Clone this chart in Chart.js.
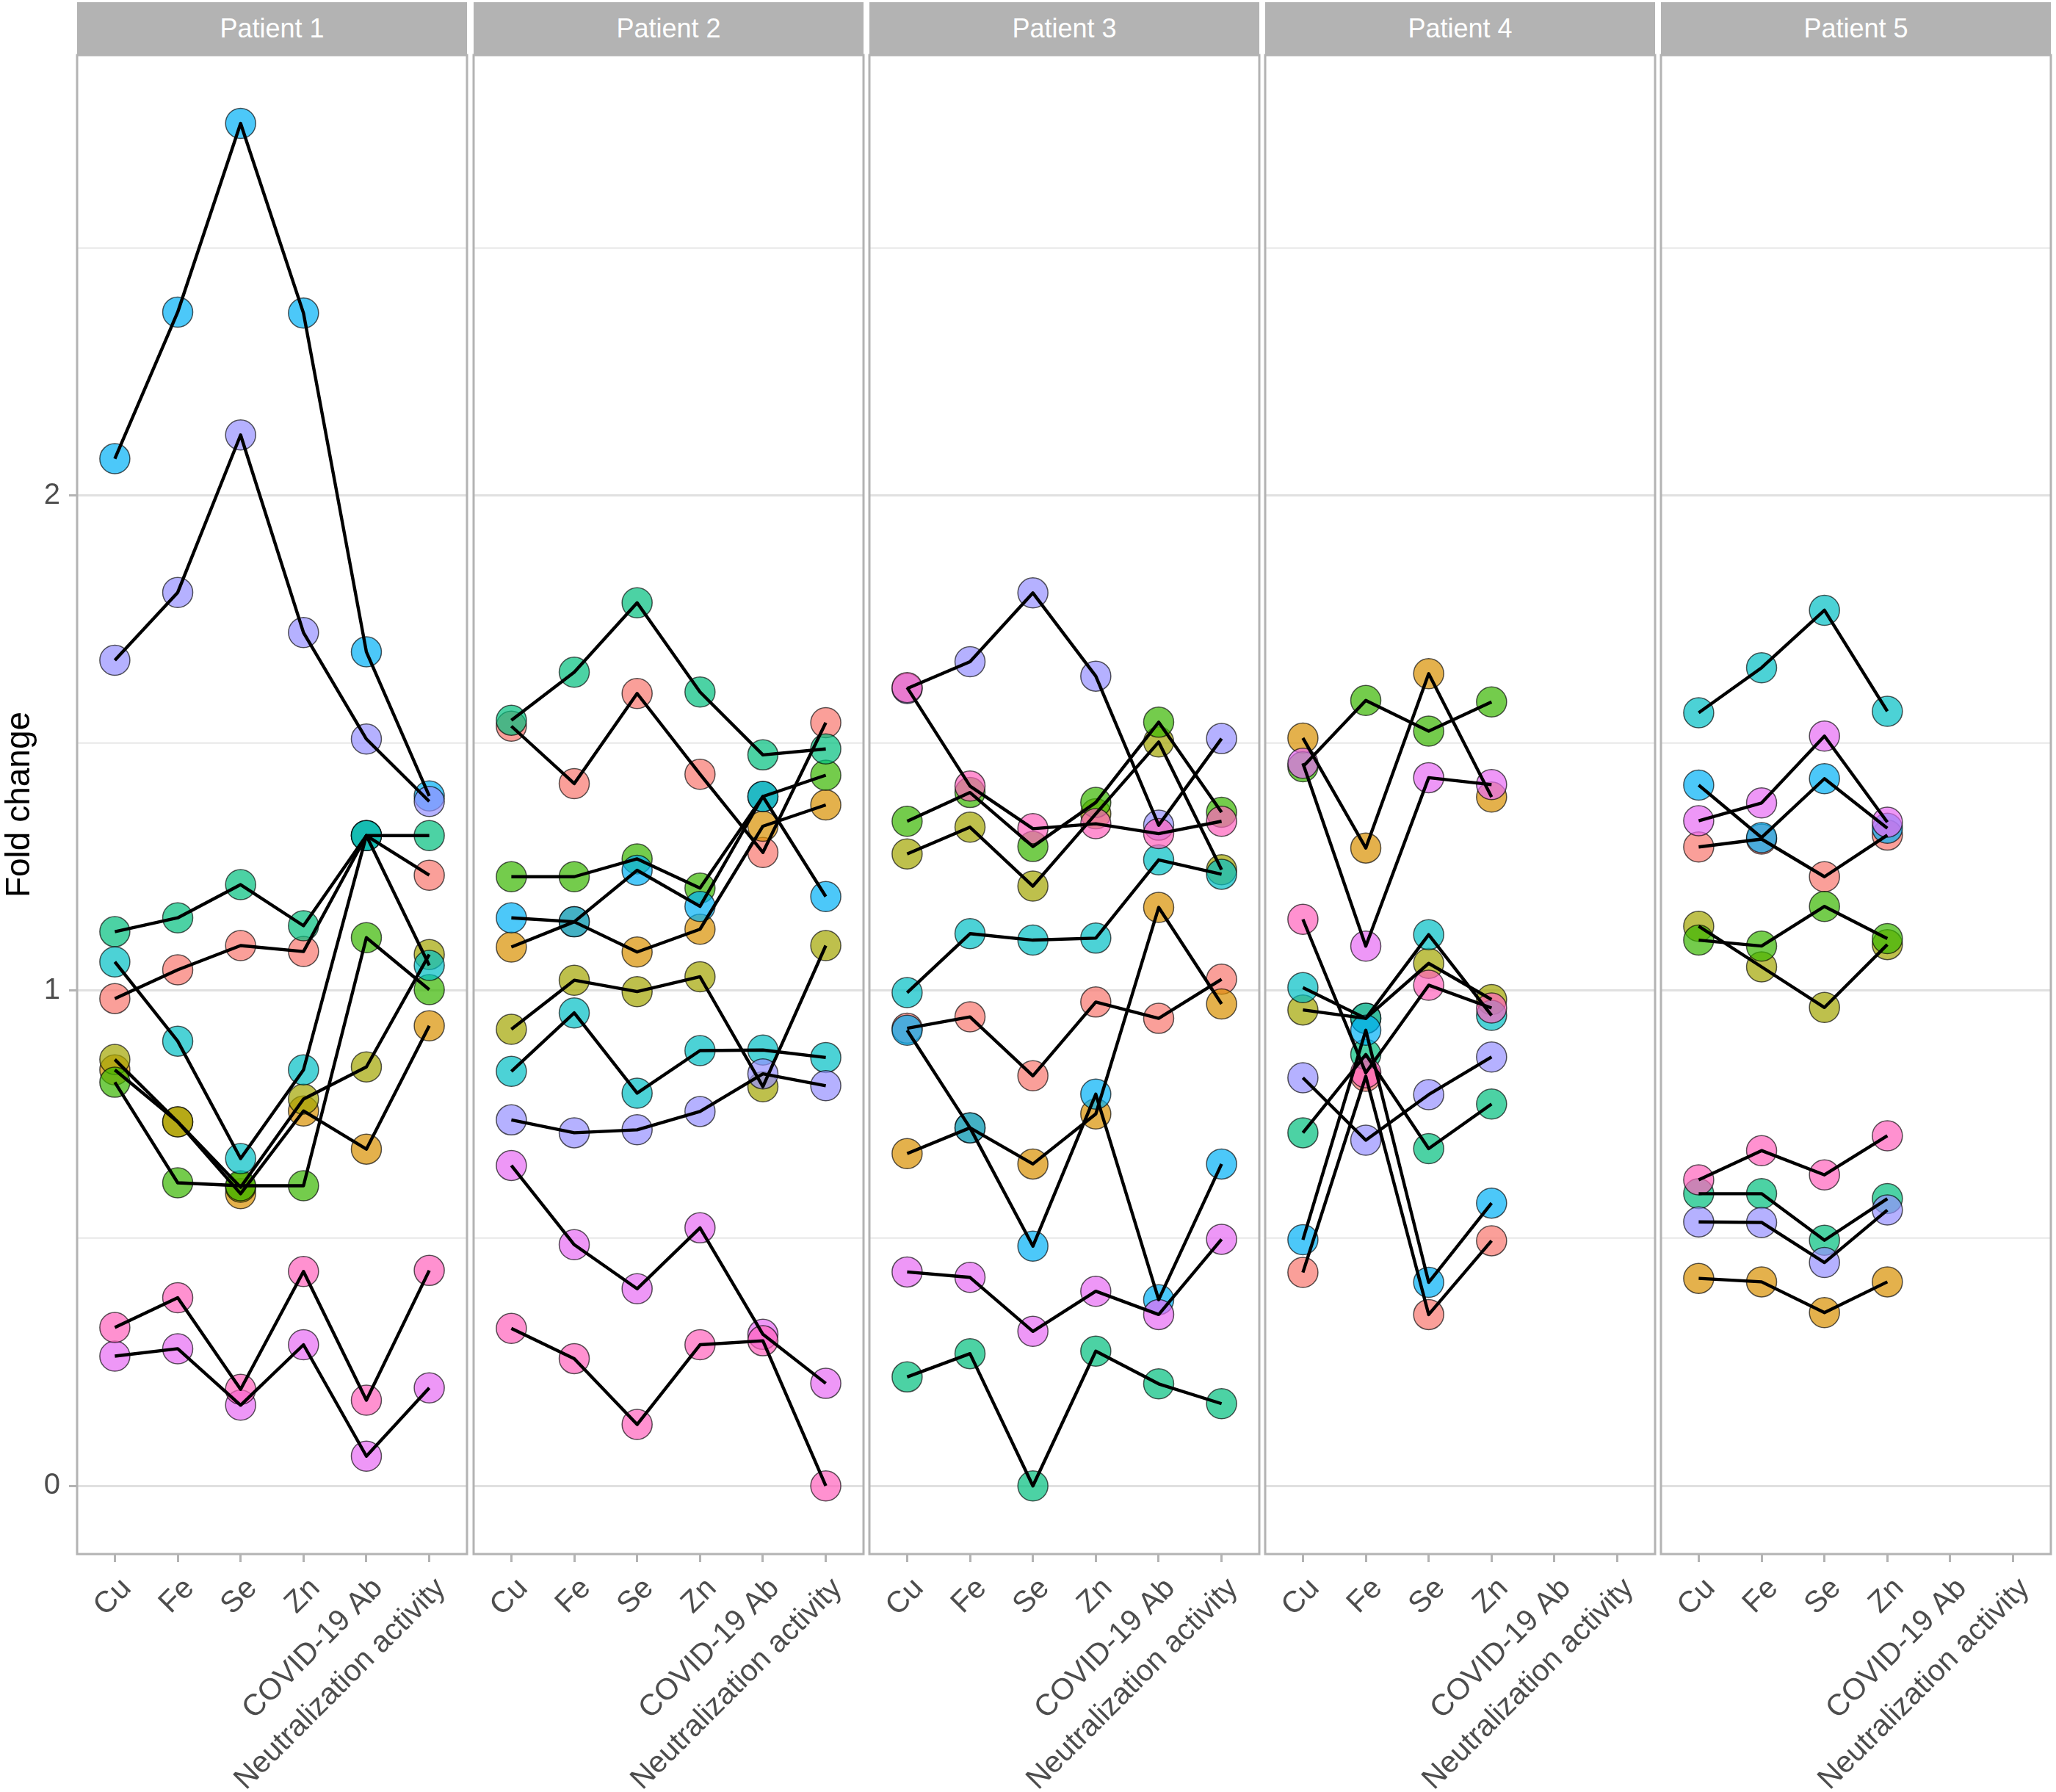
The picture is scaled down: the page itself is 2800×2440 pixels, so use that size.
<!DOCTYPE html>
<html><head><meta charset="utf-8">
<script src="https://cdn.jsdelivr.net/npm/chart.js@4.4.1/dist/chart.umd.min.js"></script>
<style>
html,body{margin:0;padding:0;background:#fff;}
#wrap{position:relative;width:2800px;height:2440px;overflow:hidden;background:#fff;}
.strip{position:absolute;top:3px;height:72px;background:#B3B3B3;color:#fff;font-family:'Liberation Sans',Arial,sans-serif;font-size:36px;display:flex;align-items:center;justify-content:center;}
canvas{position:absolute;}
</style></head><body><div id="wrap"></div>
<script>
// ---- data ----
const categories = ["Cu", "Fe", "Se", "Zn", "COVID-19 Ab", "Neutralization activity"];
const patients = ["Patient 1", "Patient 2", "Patient 3", "Patient 4", "Patient 5"];
const seriesColors = ["#F8766D", "#D89000", "#A3A500", "#39B600", "#00BF7D", "#00BFC4", "#00B0F6", "#9590FF", "#E76BF3", "#FF62BC"];
const yTickValues = [0, 0.5, 1, 1.5, 2, 2.5];

// rows follow seriesColors order; columns follow categories
const patient1 = [
  [0.984, 1.042, 1.091, 1.079, 1.313, 1.233],
  [0.840, 0.735, 0.590, 0.757, 0.680, 0.929],
  [0.861, 0.735, 0.603, 0.781, 0.846, 1.073],
  [0.815, 0.612, 0.606, 0.606, 1.107, 1.002],
  [1.119, 1.147, 1.214, 1.131, 1.313, 1.313],
  [1.058, 0.898, 0.661, 0.840, 1.313, 1.051],
  [2.074, 2.370, 2.751, 2.368, 1.684, 1.393],
  [1.667, 1.804, 2.122, 1.723, 1.508, 1.382],
  [0.262, 0.277, 0.163, 0.285, 0.060, 0.198],
  [0.320, 0.380, 0.195, 0.433, 0.173, 0.435]
];
const patient2 = [
  [1.534, 1.418, 1.600, 1.437, 1.279, 1.541],
  [1.088, 1.139, 1.078, 1.124, 1.332, 1.375],
  [0.922, 1.021, 0.998, 1.028, 0.806, 1.091],
  [1.230, 1.230, 1.266, 1.207, 1.392, 1.435],
  [1.546, 1.643, 1.783, 1.603, 1.476, 1.488],
  [0.837, 0.955, 0.793, 0.879, 0.880, 0.865],
  [1.147, 1.139, 1.243, 1.170, 1.392, 1.190],
  [0.739, 0.713, 0.719, 0.756, 0.832, 0.808],
  [0.647, 0.487, 0.398, 0.521, 0.306, 0.207],
  [0.318, 0.257, 0.124, 0.285, 0.293, 0.000]
];
const patient3 = [
  [0.924, 0.947, 0.828, 0.977, 0.944, 1.023],
  [0.671, 0.723, 0.650, 0.751, 1.168, 0.973],
  [1.276, 1.330, 1.211, 1.357, 1.502, 1.244],
  [1.342, 1.400, 1.291, 1.380, 1.542, 1.360],
  [0.220, 0.267, 0.000, 0.272, 0.206, 0.166],
  [0.996, 1.115, 1.102, 1.106, 1.264, 1.235],
  [0.920, 0.723, 0.484, 0.791, 0.376, 0.650],
  [1.610, 1.664, 1.803, 1.635, 1.334, 1.509],
  [0.432, 0.421, 0.312, 0.393, 0.346, 0.498],
  [1.612, 1.413, 1.327, 1.337, 1.317, 1.342]
];
const patient4 = [
  [0.431, 0.827, 0.346, 0.495, null, null],
  [1.510, 1.288, 1.640, 1.391, null, null],
  [0.961, 0.944, 1.055, 0.982, null, null],
  [1.452, 1.586, 1.524, 1.583, null, null],
  [0.713, 0.871, 0.681, 0.771, null, null],
  [1.006, 0.944, 1.113, 0.950, null, null],
  [0.497, 0.920, 0.411, 0.571, null, null],
  [0.824, 0.698, 0.790, 0.866, null, null],
  [1.459, 1.090, 1.430, 1.416, null, null],
  [1.144, 0.834, 1.011, 0.965, null, null]
];
const patient5 = [
  [1.290, 1.306, 1.230, 1.314, null, null],
  [0.419, 0.412, 0.350, 0.412, null, null],
  [1.130, 1.048, 0.966, 1.093, null, null],
  [1.102, 1.090, 1.170, 1.105, null, null],
  [0.590, 0.590, 0.496, 0.580, null, null],
  [1.561, 1.652, 1.768, 1.564, null, null],
  [1.415, 1.309, 1.428, 1.328, null, null],
  [0.533, 0.532, 0.451, 0.557, null, null],
  [1.343, 1.379, 1.514, 1.340, null, null],
  [0.618, 0.677, 0.628, 0.707, null, null]
];
const panelValues = [patient1, patient2, patient3, patient4, patient5];

// ---- layout ----
const panelLefts = [105, 645, 1184, 1723, 2262];
const panelWidth = 531;
const plotTop = 75, plotBottom = 2116;
const yMin = -0.1376, yMax = 2.889;
const FONT = "'Liberation Sans', Arial, Helvetica, sans-serif";

Chart.defaults.font.family = FONT;

function rgba(hex, a) {
  const n = parseInt(hex.slice(1), 16);
  return `rgba(${(n >> 16) & 255},${(n >> 8) & 255},${n & 255},${a})`;
}

const borderPlugin = {
  id: 'panelBorder',
  afterDraw(chart) {
    const { ctx, chartArea: a } = chart;
    ctx.save();
    ctx.strokeStyle = '#B3B3B3';
    ctx.lineWidth = 3;
    ctx.strokeRect(a.left, a.top, a.right - a.left, a.bottom - a.top);
    ctx.restore();
  }
};

const wrap = document.getElementById('wrap');

function buildConfig(values, first, yAxisW, xAxisH) {
  const datasets = [];
  values.forEach((vals) => {
    const pts = [];
    vals.forEach((v, i) => { if (v !== null) pts.push({ x: i + 1, y: v }); });
    datasets.push({
      data: pts, showLine: true, borderColor: '#000000', borderWidth: 4.4,
      pointRadius: 0, pointHoverRadius: 0, fill: false, tension: 0,
      borderJoinStyle: 'round', borderCapStyle: 'butt', order: 0
    });
  });
  values.forEach((vals, k) => {
    const pts = [];
    vals.forEach((v, i) => { if (v !== null) pts.push({ x: i + 1, y: v }); });
    datasets.push({
      data: pts, showLine: false, pointRadius: 20.5, pointHoverRadius: 20.5,
      pointBackgroundColor: rgba(seriesColors[k], 0.7),
      pointBorderColor: 'rgba(0,0,0,0.65)', pointBorderWidth: 1.5,
      order: 40 - k
    });
  });
  return {
    type: 'scatter',
    data: { datasets },
    plugins: [borderPlugin],
    options: {
      responsive: false, animation: false, devicePixelRatio: 1,
      layout: { padding: 0 },
      plugins: { legend: { display: false }, tooltip: { enabled: false } },
      scales: {
        x: {
          type: 'linear', min: 0.4, max: 6.6,
          afterBuildTicks: (s) => { s.ticks = categories.map((c, i) => ({ value: i + 1 })); },
          afterFit: (s) => { s.height = xAxisH; },
          ticks: {
            autoSkip: false, maxRotation: 45, minRotation: 45, padding: 12, labelOffset: 16,
            color: '#4D4D4D', font: { size: 41, family: FONT },
            callback: (v) => categories[Math.round(v) - 1]
          },
          grid: { display: true, drawOnChartArea: false, drawTicks: true, tickLength: 11, tickColor: '#B3B3B3', tickWidth: 3, color: '#B3B3B3' },
          border: { display: false }
        },
        y: {
          type: 'linear', min: yMin, max: yMax,
          afterBuildTicks: (s) => { s.ticks = yTickValues.map(v => ({ value: v })); },
          afterFit: (s) => { s.width = yAxisW; },
          ticks: {
            display: first, padding: 12, color: '#4D4D4D', font: { size: 40, family: FONT },
            callback: (v) => Number.isInteger(v) ? String(v) : ''
          },
          grid: {
            display: true, drawOnChartArea: true, drawTicks: first, tickLength: 11,
            color: '#E0E0E0',
            lineWidth: (c) => (c.tick && Number.isInteger(c.tick.value)) ? 3 : 1.5,
            tickColor: (c) => (c.tick && Number.isInteger(c.tick.value)) ? '#B3B3B3' : 'rgba(0,0,0,0)',
            tickWidth: 3
          },
          border: { display: false },
          title: {
            display: first, text: 'Fold change', color: '#000000',
            font: { size: 46, family: FONT }, padding: { top: 0, bottom: 0 }
          }
        }
      }
    }
  };
}

panelValues.forEach((values, p) => {
  const strip = document.createElement('div');
  strip.className = 'strip';
  strip.style.left = panelLefts[p] + 'px';
  strip.style.width = panelWidth + 'px';
  strip.textContent = patients[p];
  wrap.appendChild(strip);

  const first = p === 0;
  const yAxisW = first ? 105 : 60;
  const xAxisH = 2440 - plotBottom;
  const targetH = plotBottom - plotTop;

  // pass 1: measure the insets the library adds around the plot area
  let cw = yAxisW + panelWidth + 40;
  let ch = targetH + xAxisH + 40;
  let canvas = document.createElement('canvas');
  canvas.width = cw; canvas.height = ch;
  canvas.style.width = cw + 'px'; canvas.style.height = ch + 'px';
  wrap.appendChild(canvas);
  let chart = new Chart(canvas, buildConfig(values, first, yAxisW, xAxisH));
  let ca = chart.chartArea;
  const insetL = ca.left, insetT = ca.top;
  const insetR = cw - ca.right, insetB = ch - ca.bottom;
  chart.destroy();
  canvas.remove();

  // pass 2: size the canvas so the plot area is exactly the panel
  cw = Math.round(insetL + panelWidth + insetR);
  ch = Math.round(insetT + targetH + insetB);
  canvas = document.createElement('canvas');
  canvas.width = cw; canvas.height = ch;
  canvas.style.width = cw + 'px'; canvas.style.height = ch + 'px';
  wrap.appendChild(canvas);
  chart = new Chart(canvas, buildConfig(values, first, yAxisW, xAxisH));
  ca = chart.chartArea;
  canvas.style.left = (panelLefts[p] - ca.left) + 'px';
  canvas.style.top = (plotTop - ca.top) + 'px';
});
</script>
</body></html>
